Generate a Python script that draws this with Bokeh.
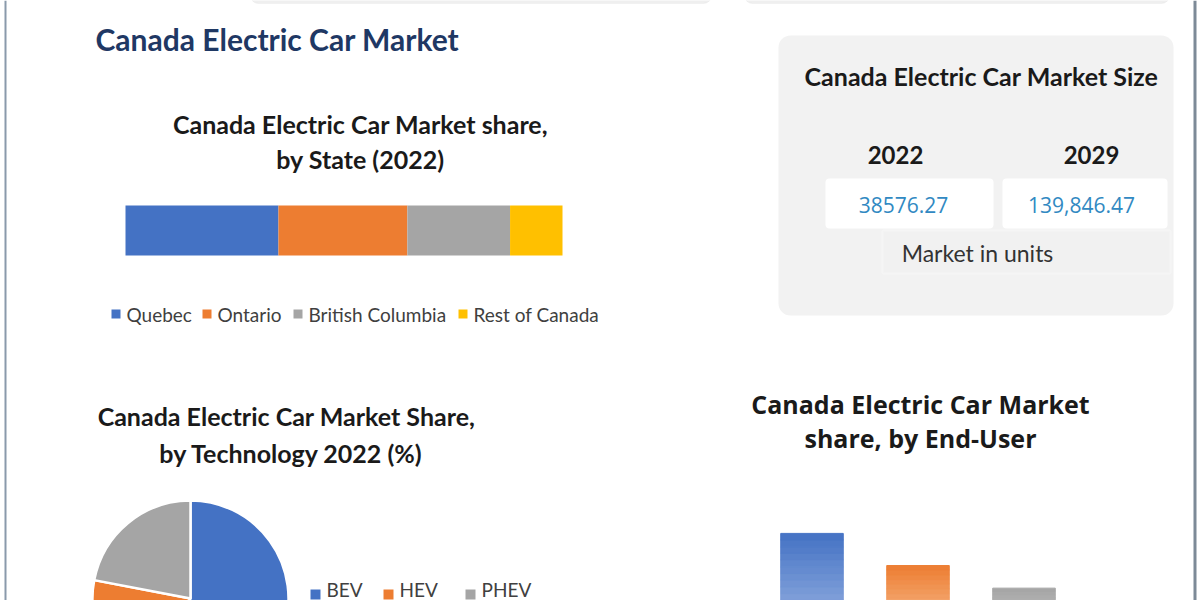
import numpy as np
from bokeh.plotting import figure
from bokeh.models import Range1d, BoxAnnotation, Label, Span, ColumnDataSource
from bokeh.embed import file_html
from bokeh.resources import INLINE

# ---------------- data ----------------
main_title = "Canada Electric Car Market"

state_title = ["Canada Electric Car Market share,", "by State (2022)"]
state_categories = ["Quebec", "Ontario", "British Columbia", "Rest of Canada"]
state_share = [35.0, 29.5, 23.5, 12.0]
state_colors = ["#4472c4", "#ed7d31", "#a5a5a5", "#ffc000"]

size_title = "Canada Electric Car Market Size"
size_years = ["2022", "2029"]
size_values = ["38576.27", "139,846.47"]
size_unit = "Market in units"

tech_title = ["Canada Electric Car Market Share,", "by Technology 2022 (%)"]
tech_categories = ["BEV", "HEV", "PHEV"]
tech_share = [60.0, 18.0, 22.0]
tech_colors = ["#4472c4", "#ed7d31", "#a5a5a5"]

enduser_title = ["Canada Electric Car Market", "share, by End-User"]
enduser_categories = ["Private", "Commercial", "Fleet"]
enduser_share = [45.0, 31.5, 22.0]
enduser_top_colors = ["#4472c4", "#ed7d31", "#a5a5a5"]
enduser_bottom_colors = ["#a4bbe6", "#f9cba6", "#d0d0d0"]

# ---------------- canvas ----------------
W, H = 1200, 600
FONT = "Lato"


def Y(py):
    return H - py


def pix_range(d0, p0, d1, p1, total):
    k = (p1 - p0) / (d1 - d0)
    start = d0 - p0 / k
    return Range1d(start, start + total / k)


p = figure(width=W, height=H, x_range=Range1d(0, W), y_range=Range1d(0, H),
           output_backend="svg", toolbar_location=None, min_border=0,
           x_axis_type=None, y_axis_type=None, outline_line_color=None,
           background_fill_color="#ffffff", border_fill_color="#ffffff")
p.grid.visible = False


def label(x, y, text, size, color="#1a1a1a", bold=True, align="center",
          baseline="middle", font=FONT):
    p.add_layout(Label(x=x, y=Y(y), text=text, text_font=font,
                       text_font_size=f"{size}px",
                       text_font_style="bold" if bold else "normal",
                       text_color=color, text_align=align,
                       text_baseline=baseline))


# page borders and top cards
p.add_layout(BoxAnnotation(left=250, right=711, top=Y(-20), bottom=Y(3),
                           fill_color="#efefef", fill_alpha=1, line_color="#e6e6e6",
                           border_radius=8))
p.add_layout(BoxAnnotation(left=744, right=1169, top=Y(-20), bottom=Y(3),
                           fill_color="#efefef", fill_alpha=1, line_color="#e6e6e6",
                           border_radius=8))
p.add_layout(Span(location=5, dimension="height", line_color="#8a9aab", line_width=2))
p.add_layout(Span(location=1194.5, dimension="height", line_color="#7d8a97", line_width=3))

# main title
label(95, 38, main_title, 30, color="#1f3864", align="left")

# ---------- stacked bar by state ----------
label(360, 123, state_title[0], 25)
label(360, 158, state_title[1], 25)

p.extra_x_ranges["state"] = pix_range(0, 125, 100, 562, W)
cum = np.cumsum([0] + state_share)
src_state = ColumnDataSource(dict(left=cum[:-1], right=cum[1:],
                                  color=state_colors, name=state_categories))
p.hbar(y=Y(230), height=50, left="left", right="right", source=src_state,
       fill_color="color", line_color=None, x_range_name="state")

leg_x = [111, 202, 293, 458]
for cx, name, col in zip(leg_x, state_categories, state_colors):
    p.add_layout(BoxAnnotation(left=cx, right=cx + 9, top=Y(309), bottom=Y(318),
                               fill_color=col, fill_alpha=1, line_color=None))
    label(cx + 15, 314, name, 19, color="#404040", bold=False, align="left")

# ---------- market size card ----------
p.add_layout(BoxAnnotation(left=778, right=1173, top=Y(35), bottom=Y(315),
                           fill_color="#f2f2f2", fill_alpha=1, line_color=None,
                           border_radius=12))
label(981, 75, size_title, 25)
year_x = [895, 1091]
box_lr = [(825, 993), (1002, 1167)]
val_x = [903, 1081]
for yx, (l, r), vx, yr, val in zip(year_x, box_lr, val_x, size_years, size_values):
    label(yx, 154, yr, 24)
    p.add_layout(BoxAnnotation(left=l, right=r, top=Y(178), bottom=Y(228),
                               fill_color="#ffffff", fill_alpha=1, line_color=None,
                               border_radius=4))
    label(vx, 204, val, 21, color="#3189c2", bold=False, font="Open Sans")
p.add_layout(BoxAnnotation(left=882, right=1170, top=Y(230), bottom=Y(273),
                           fill_color="#f1f1f1", fill_alpha=1, line_color="#fbfbfb",
                           line_width=2))
label(977, 252, size_unit, 23, color="#333333", bold=False)

# ---------- pie by technology ----------
label(286, 415, tech_title[0], 25)
label(291, 452, tech_title[1], 25)

tc = np.cumsum([0] + tech_share) / 100.0
start = np.pi / 2 - 2 * np.pi * tc[:-1]
end = np.pi / 2 - 2 * np.pi * tc[1:]
src_tech = ColumnDataSource(dict(start=start, end=end, color=tech_colors,
                                 name=tech_categories))
p.wedge(x=190, y=Y(598), radius=98, radius_units="screen",
        start_angle="start", end_angle="end", direction="clock",
        fill_color="color", line_color="#ffffff", line_width=2.5, source=src_tech)

pleg_x = [310, 383, 465]
for cx, name, col in zip(pleg_x, tech_categories, tech_colors):
    p.add_layout(BoxAnnotation(left=cx, right=cx + 10, top=Y(589), bottom=Y(599),
                               fill_color=col, fill_alpha=1, line_color=None))
    label(cx + 16, 600, name, 19, color="#404040", bold=False, align="left",
          baseline="bottom")

# ---------- bars by end-user ----------
label(920, 403, enduser_title[0], 25, font="Open Sans")
label(920, 437, enduser_title[1], 25, font="Open Sans")

p.extra_x_ranges["eu"] = pix_range(0, 811.5, 1, 917.5, W)
p.extra_y_ranges["eu"] = pix_range(0, H - 640, 1, H - 640 + 2.38, H)


def mix(c1, c2, t):
    a = np.array([int(c1[i:i + 2], 16) for i in (1, 3, 5)], float)
    b = np.array([int(c2[i:i + 2], 16) for i in (1, 3, 5)], float)
    c = a + (b - a) * t
    return "#%02x%02x%02x" % tuple(int(round(v)) for v in c)


NB = 16
xs, bots, tops, cols = [], [], [], []
for i, (v, ct, cb) in enumerate(zip(enduser_share, enduser_top_colors, enduser_bottom_colors)):
    for j in range(NB):
        xs.append(i)
        bots.append(v * j / NB)
        tops.append(v * (j + 1) / NB)
        cols.append(mix(cb, ct, (j + 0.5) / NB))
src_eu = ColumnDataSource(dict(x=xs, bottom=bots, top=tops, color=cols))
p.vbar(x="x", bottom="bottom", top="top", width=0.59, source=src_eu,
       fill_color="color", line_color="color", line_width=1,
       x_range_name="eu", y_range_name="eu")

open("out.html", "w").write(file_html(p, INLINE))
